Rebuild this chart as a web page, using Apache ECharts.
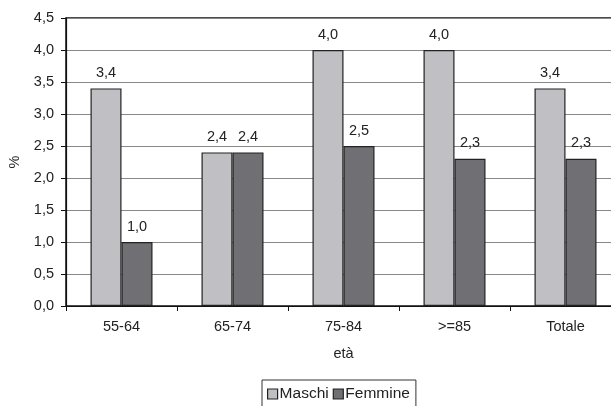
<!DOCTYPE html>
<html>
<head>
<meta charset="utf-8">
<script src="https://cdn.jsdelivr.net/npm/echarts@6/dist/echarts.min.js"></script>
<style>
  html, body { margin: 0; padding: 0; background: #fff; }
  #chart { width: 611px; height: 406px; }
</style>
</head>
<body>
<div id="chart"></div>
<script>
const categories = ['55-64', '65-74', '75-84', '>=85', 'Totale'];
const maschi = [3.4, 2.4, 4.0, 4.0, 3.4];
const femmine = [1.0, 2.4, 2.5, 2.3, 2.3];
const yTicks = [0, 0.5, 1, 1.5, 2, 2.5, 3, 3.5, 4, 4.5];

const fmt = v => v.toFixed(1).replace('.', ',');
const font = 'Liberation Sans, Arial, sans-serif';
const fs = 14.5;

const chart = echarts.init(document.getElementById('chart'));

function barSeries(name, data, color) {
  return {
    name,
    type: 'bar',
    data,
    barWidth: 31,
    barGap: '0%',
    itemStyle: { color, borderColor: '#222', borderWidth: 1.2 },
    label: {
      show: true,
      position: 'top',
      distance: 8,
      color: '#222',
      fontFamily: font,
      fontSize: fs,
      formatter: p => fmt(p.value)
    }
  };
}

chart.setOption({
  animation: false,
  textStyle: { fontFamily: font },
  grid: {
    left: 66, top: 18, width: 555, height: 288,
    outerBoundsMode: 'none',
    show: true, borderColor: '#111', borderWidth: 1.5
  },
  legend: {
    left: 262, top: 380,
    icon: 'rect', itemWidth: 10, itemHeight: 10, itemGap: 4,
    borderColor: '#333', borderWidth: 1, padding: [6, 6, 6, 5],
    textStyle: { color: '#222', fontSize: 15.5, fontFamily: font, padding: [0, 0, 0, -3] },
    itemStyle: { borderColor: '#222', borderWidth: 1.2 }
  },
  xAxis: {
    type: 'category',
    data: categories,
    name: 'età',
    nameLocation: 'middle',
    nameGap: 40,
    nameTextStyle: { color: '#222', fontSize: fs },
    axisLine: { lineStyle: { color: '#111', width: 1.2 } },
    axisTick: { show: true, length: 5, lineStyle: { color: '#111' } },
    axisLabel: { color: '#222', fontSize: fs, margin: 13 }
  },
  yAxis: {
    type: 'value',
    min: yTicks[0],
    max: yTicks[yTicks.length - 1],
    interval: 0.5,
    name: '%',
    nameLocation: 'middle',
    nameGap: 44,
    nameRotate: 90,
    nameTextStyle: { color: '#222', fontSize: fs },
    axisLine: { show: true, lineStyle: { color: '#111', width: 1.2 } },
    axisTick: { show: true, length: 5, lineStyle: { color: '#111' } },
    axisLabel: { color: '#222', fontSize: fs, margin: 12, formatter: v => fmt(v) },
    splitLine: { lineStyle: { color: '#888', width: 1 } }
  },
  series: [
    barSeries('Maschi', maschi, '#c0c0c4'),
    barSeries('Femmine', femmine, '#6f6f74')
  ]
});
</script>
</body>
</html>
